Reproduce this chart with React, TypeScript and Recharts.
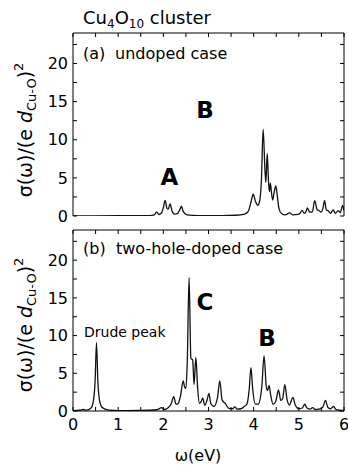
import { Line, LineChart, XAxis, YAxis } from "recharts";

// photon energy (eV) and sigma values
const energyA = [
  0, 1.0, 1.7, 1.8, 1.85, 1.9, 1.96, 2.0, 2.04, 2.08, 2.11, 2.15, 2.19, 2.25, 2.32, 2.37, 2.4, 2.44, 2.52, 2.8,
  3.3, 3.6, 3.8, 3.88, 3.94, 3.99, 4.04, 4.09, 4.13, 4.17, 4.21, 4.25, 4.27, 4.3, 4.33, 4.35, 4.37, 4.39, 4.42,
  4.45, 4.49, 4.52, 4.56, 4.62, 4.7, 4.8, 4.86, 4.98, 5.03, 5.07, 5.12, 5.16, 5.19, 5.24, 5.3, 5.35, 5.41, 5.44,
  5.49, 5.53, 5.57, 5.61, 5.65, 5.7, 5.76, 5.81, 5.87, 5.92, 5.97, 6.0,
];
const sigmaA = [
  0.02, 0.03, 0.06, 0.15, 0.55, 0.2, 0.4, 1.1, 2.05, 1.0, 0.9, 1.6, 0.7, 0.25, 0.35, 0.9, 1.28, 0.6, 0.15, 0.06,
  0.05, 0.1, 0.25, 0.6, 1.8, 2.85, 1.9, 1.4, 1.9, 4.5, 11.35, 6.0, 4.4, 8.2, 4.4, 3.2, 4.3, 3.3, 2.1,
  3.0, 3.95, 2.8, 1.0, 0.3, 0.15, 0.4, 0.15, 0.2, 0.4, 0.75, 0.35, 0.6, 1.05, 0.5, 0.55, 2.0, 0.8, 0.75,
  0.5, 0.9, 2.0, 0.8, 0.7, 0.35, 0.8, 0.35, 0.7, 0.45, 1.4, 0.7,
];

// photon energy (eV) and sigma values
const energyB = [
  0, 0.15, 0.23, 0.3, 0.4, 0.45, 0.49, 0.52, 0.55, 0.59, 0.65, 0.8, 1.2, 1.7, 1.88, 1.96, 2.02, 2.1, 2.17, 2.23,
  2.28, 2.33, 2.38, 2.44, 2.47, 2.5, 2.53, 2.57, 2.61, 2.65, 2.68, 2.72, 2.76, 2.8, 2.84, 2.87, 2.92, 2.97, 3.01,
  3.05, 3.12, 3.2, 3.25, 3.3, 3.37, 3.45, 3.53, 3.58, 3.63, 3.72, 3.79, 3.85, 3.9, 3.94, 3.98, 4.04, 4.1, 4.18,
  4.23, 4.28, 4.31, 4.34, 4.38, 4.43, 4.49, 4.55, 4.6, 4.64, 4.69, 4.74, 4.79, 4.87, 4.92, 5.0, 5.08, 5.13, 5.18,
  5.25, 5.31, 5.36, 5.45, 5.53, 5.59, 5.64, 5.7, 5.77, 5.82, 5.9, 6.0,
];
const sigmaB = [
  0.03, 0.1, 0.2, 0.12, 0.4, 1.3, 4.0, 9.05, 4.0, 1.3, 0.45, 0.12, 0.05, 0.1, 0.2, 0.45, 0.2, 0.4, 0.9, 1.9,
  0.9, 1.0, 2.0, 4.0, 3.2, 3.0, 6.5, 17.7, 7.0, 6.75, 3.5, 7.1, 3.0, 1.0, 1.3, 1.7, 0.75, 1.5, 2.35,
  1.0, 0.6, 1.8, 4.0, 1.5, 1.0, 0.35, 0.3, 0.55, 0.25, 0.3, 0.6, 0.9, 2.8, 5.75, 2.8, 0.9, 0.9, 3.2,
  7.3, 3.2, 2.7, 3.4, 2.0, 0.9, 1.3, 2.8, 1.4, 1.6, 3.5, 1.5, 0.8, 1.8, 0.8, 0.3, 0.4, 0.9, 0.4,
  0.25, 0.45, 0.2, 0.25, 0.5, 1.4, 0.5, 0.3, 0.6, 0.2, 0.1, 0.05,
];

const xTicks = [0, 0.5, 1, 1.5, 2, 2.5, 3, 3.5, 4, 4.5, 5, 5.5, 6];
const yTicks = [0, 2.5, 5, 7.5, 10, 12.5, 15, 17.5, 20, 22.5];

const dataA = energyA.map((x, i) => ({ x, y: sigmaA[i] }));
const dataB = energyB.map((x, i) => ({ x, y: sigmaB[i] }));

const FONT = "DejaVu Sans";
const tickStyle = { fill: "#000", fontSize: 16, fontFamily: FONT };
const axisLine = { stroke: "#000", strokeWidth: 1 };
const tickLine = { stroke: "#000", strokeWidth: 1 };

const intLabel = (v: number) => (Number.isInteger(v) ? String(v) : "");
const fiveLabel = (v: number) => (v % 5 === 0 ? String(v) : "");
const blank = () => "";

function Panel({ data, height, top, bottomAxisHeight, bottomLabels }: {
  data: { x: number; y: number }[];
  height: number;
  top: number;
  bottomAxisHeight: number;
  bottomLabels: boolean;
}) {
  return (
    <LineChart
      width={348}
      height={height}
      data={data}
      margin={{ top: top - 1, right: 3, bottom: bottomLabels ? 0 : 14, left: 0 }}
    >
      <XAxis
        dataKey="x"
        type="number"
        domain={[0, 6]}
        ticks={xTicks}
        interval={0}
        allowDataOverflow
        height={bottomAxisHeight}
        axisLine={axisLine}
        tickLine={tickLine}
        tickSize={-4}
        tickMargin={12}
        tick={tickStyle}
        tickFormatter={bottomLabels ? intLabel : blank}
      />
      <XAxis
        xAxisId="top"
        dataKey="x"
        orientation="top"
        type="number"
        domain={[0, 6]}
        ticks={xTicks}
        interval={0}
        allowDataOverflow
        height={1}
        axisLine={axisLine}
        tickLine={tickLine}
        tickSize={-4}
        tick={tickStyle}
        tickFormatter={blank}
      />
      <YAxis
        type="number"
        domain={[0, 24]}
        ticks={yTicks}
        interval={0}
        allowDataOverflow
        width={73}
        axisLine={axisLine}
        tickLine={tickLine}
        tickSize={-4}
        tickMargin={9}
        tick={tickStyle}
        tickFormatter={fiveLabel}
      />
      <YAxis
        yAxisId="right"
        orientation="right"
        type="number"
        domain={[0, 24]}
        ticks={yTicks}
        interval={0}
        allowDataOverflow
        width={1}
        axisLine={axisLine}
        tickLine={tickLine}
        tickSize={-4}
        tick={tickStyle}
        tickFormatter={blank}
      />
      {/* invisible copy so the mirrored frame axes have a series */}
      <Line
        xAxisId="top"
        yAxisId="right"
        dataKey="y"
        type="monotone"
        stroke="none"
        dot={false}
        isAnimationActive={false}
      />
      <Line dataKey="y" type="monotone" stroke="#111" strokeWidth={1.3} dot={false} isAnimationActive={false} />
    </LineChart>
  );
}

function YLabel({ cy }: { cy: number }) {
  return (
    <text transform={`rotate(-90 32 ${cy})`} x={32} y={cy} textAnchor="middle" fontSize={19} fontFamily={FONT} fill="#000">
      σ(ω)/(e <tspan fontStyle="italic">d</tspan>
      <tspan fontSize={13} dy={4}>Cu-O</tspan>
      <tspan dy={-4}>)</tspan>
      <tspan fontSize={13} dy={-9}>2</tspan>
    </text>
  );
}

export default function App() {
  return (
    <div style={{ position: "absolute", left: 0, top: 0, width: 348, height: 468, background: "#fff" }}>
      <div style={{ position: "absolute", left: 0, top: 0 }}>
        <Panel data={dataA} height={230} top={33} bottomAxisHeight={0} bottomLabels={false} />
      </div>
      <div style={{ position: "absolute", left: 0, top: 215 }}>
        <Panel data={dataB} height={253} top={15} bottomAxisHeight={57} bottomLabels />
      </div>
      <svg width={348} height={468} style={{ position: "absolute", left: 0, top: 0, pointerEvents: "none" }}>
        <text x={83} y={24} fontSize={18} fontFamily={FONT} fill="#000">
          Cu<tspan fontSize={12} dy={4}>4</tspan>
          <tspan dy={-4}>O</tspan>
          <tspan fontSize={12} dy={4}>10</tspan>
          <tspan dy={-4}> cluster</tspan>
        </text>
        <text y={59} fontSize={16} fontFamily={FONT} fill="#000">
          <tspan x={83}>(a)</tspan>
          <tspan x={115}>undoped case</tspan>
        </text>
        <text y={254} fontSize={16} fontFamily={FONT} fill="#000">
          <tspan x={83}>(b)</tspan>
          <tspan x={116}>two-hole-doped case</tspan>
        </text>
        <text x={84} y={337} fontSize={14} fontFamily={FONT} fill="#000">Drude peak</text>
        <g fontSize={23} fontWeight="bold" fontFamily={FONT} fill="#000" textAnchor="middle">
          <text x={169.5} y={185}>A</text>
          <text x={205} y={118}>B</text>
          <text x={205} y={310}>C</text>
          <text x={267} y={346}>B</text>
        </g>
        <YLabel cy={130} />
        <YLabel cy={325} />
        <text x={198} y={461} fontSize={16} fontFamily={FONT} fill="#000" textAnchor="middle">ω(eV)</text>
      </svg>
    </div>
  );
}
